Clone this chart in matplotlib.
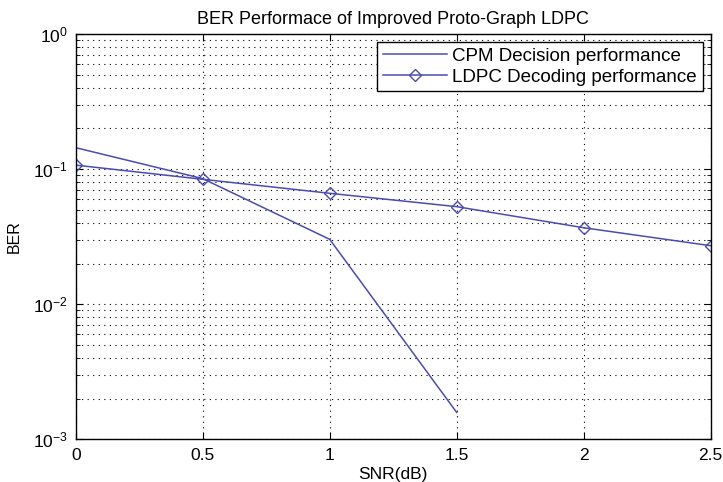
import matplotlib
matplotlib.use("Agg")
import matplotlib.pyplot as plt
from matplotlib.ticker import LogLocator, FixedLocator, NullFormatter

plt.rcParams['font.family'] = ['Liberation Sans', 'DejaVu Sans']
plt.rcParams['mathtext.fontset'] = 'custom'
plt.rcParams['mathtext.rm'] = 'Liberation Sans'
plt.rcParams['mathtext.it'] = 'Liberation Sans'
plt.rcParams['mathtext.default'] = 'regular'

snr = [0, 0.5, 1, 1.5, 2, 2.5]
cpm_snr = [0, 0.5, 1, 1.5]
cpm_ber = [0.144, 0.085, 0.0302, 0.00158]
ldpc_ber = [0.107, 0.084, 0.0662, 0.0527, 0.0368, 0.0271]
xticks = [0, 0.5, 1, 1.5, 2, 2.5]
xticklabels = ['0', '0.5', '1', '1.5', '2', '2.5']

color = '#4b4bb3'

fig = plt.figure(figsize=(7.23, 4.82), dpi=100)
ax = fig.add_axes([0.1047, 0.0886, 0.8783, 0.8409])

ax.plot(cpm_snr, cpm_ber, color=color, lw=1.1, label='CPM Decision performance')
ax.plot(snr, ldpc_ber, color=color, lw=1.1, marker='D', markersize=6.5,
        markerfacecolor='none', markeredgecolor=color, markeredgewidth=1.0,
        label='LDPC Decoding performance')

ax.set_yscale('log')
ax.set_xlim(0, 2.5)
ax.set_ylim(1e-3, 1)
ax.xaxis.set_major_locator(FixedLocator(xticks))
ax.set_xticklabels(xticklabels)
ax.yaxis.set_major_locator(LogLocator(base=10, numticks=10))
ax.yaxis.set_minor_locator(LogLocator(base=10, subs=[2, 3, 4, 5, 6, 7, 8, 9], numticks=10))
ax.yaxis.set_minor_formatter(NullFormatter())

ax.grid(True, which='major', axis='both', linestyle=(0, (1, 4)), color='black', lw=0.8)
ax.grid(True, which='minor', axis='y', linestyle=(0, (1, 4)), color='black', lw=0.8)

ax.tick_params(which='both', direction='in', top=True, right=True, labelsize=12.5, pad=6)
ax.tick_params(which='major', length=5)
ax.tick_params(which='minor', length=3)
for s in ax.spines.values():
    s.set_linewidth(1.0)

ax.set_title('BER Performace of Improved Proto-Graph LDPC', fontsize=13, pad=7)
ax.set_xlabel('SNR(dB)', fontsize=12.5, labelpad=3)
ax.set_ylabel('BER', fontsize=11.5, labelpad=8)

leg = ax.legend(loc='upper right', fontsize=13.5, handlelength=3.4, fancybox=False,
                framealpha=1, edgecolor='black', borderpad=0.3, labelspacing=0.2,
                handletextpad=0.3, borderaxespad=0.43)
leg.get_frame().set_linewidth(1.0)

fig.savefig('out.png', dpi=100)
